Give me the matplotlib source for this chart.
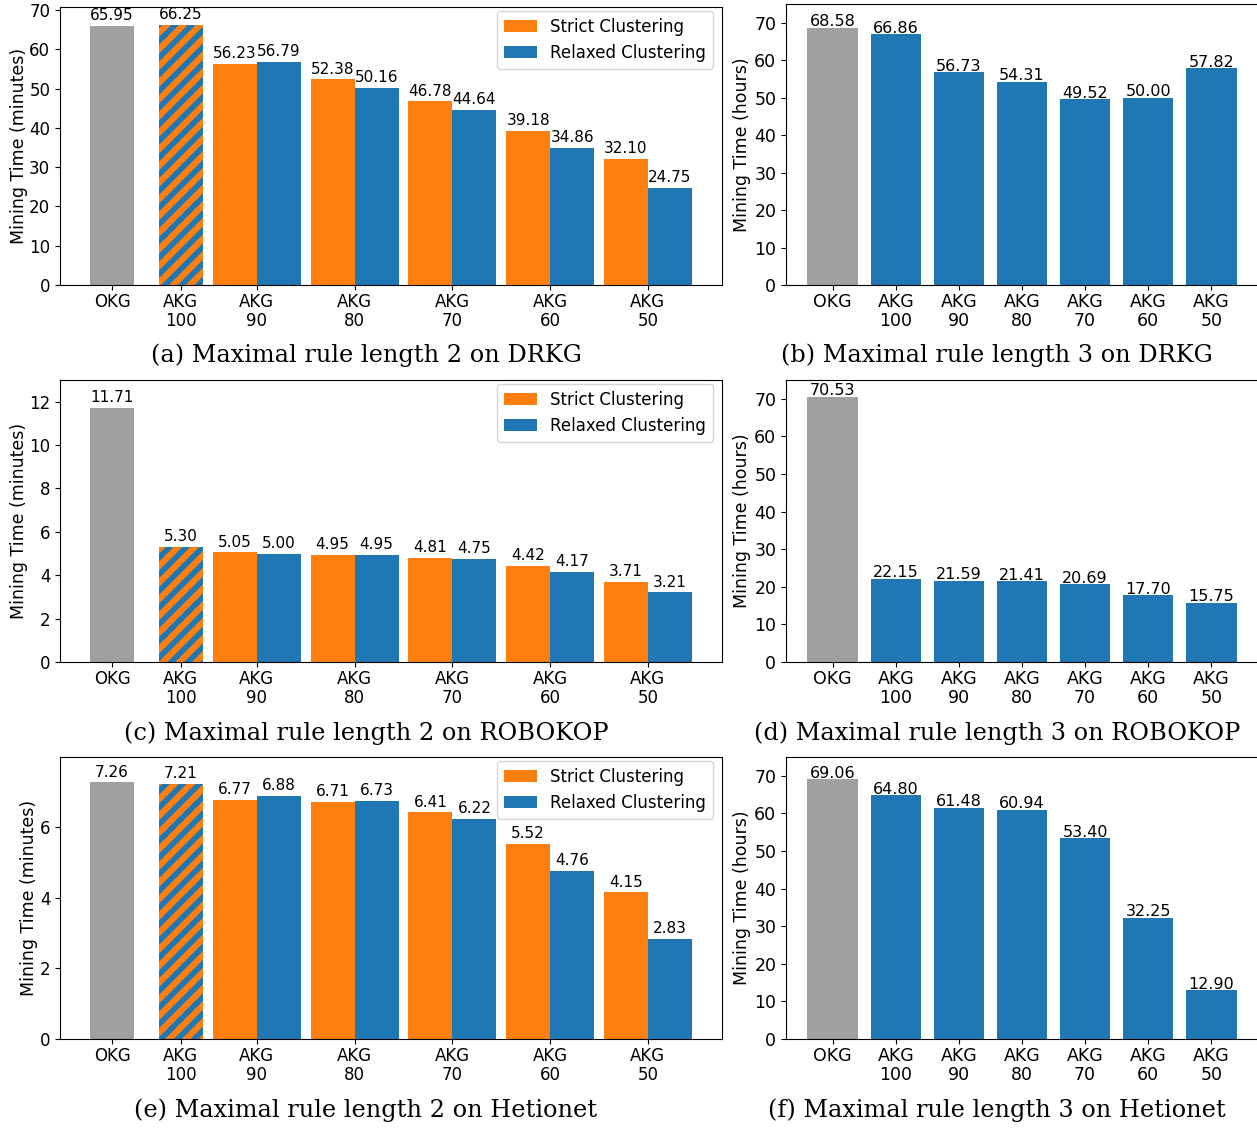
import numpy as np
import matplotlib
matplotlib.use("Agg")
import matplotlib.pyplot as plt
from matplotlib.ticker import MultipleLocator

plt.rcParams['hatch.linewidth'] = 4.0
plt.rcParams['xtick.major.pad'] = 2.0

# data
cats2 = ['OKG', 'AKG\n100', 'AKG\n90', 'AKG\n80', 'AKG\n70', 'AKG\n60', 'AKG\n50']
cats3 = ['OKG', 'AKG\n100', 'AKG\n90', 'AKG\n80', 'AKG\n70', 'AKG\n60', 'AKG\n50']

drkg2_okg = 65.95
drkg2_akg100 = 66.25
drkg2_strict = [56.23, 52.38, 46.78, 39.18, 32.10]
drkg2_relaxed = [56.79, 50.16, 44.64, 34.86, 24.75]

robo2_okg = 11.71
robo2_akg100 = 5.30
robo2_strict = [5.05, 4.95, 4.81, 4.42, 3.71]
robo2_relaxed = [5.00, 4.95, 4.75, 4.17, 3.21]

het2_okg = 7.26
het2_akg100 = 7.21
het2_strict = [6.77, 6.71, 6.41, 5.52, 4.15]
het2_relaxed = [6.88, 6.73, 6.22, 4.76, 2.83]

drkg3 = [68.58, 66.86, 56.73, 54.31, 49.52, 50.00, 57.82]
robo3 = [70.53, 22.15, 21.59, 21.41, 20.69, 17.70, 15.75]
het3 = [69.06, 64.80, 61.48, 60.94, 53.40, 32.25, 12.90]

captions = ['(a) Maximal rule length 2 on DRKG', '(b) Maximal rule length 3 on DRKG',
            '(c) Maximal rule length 2 on ROBOKOP', '(d) Maximal rule length 3 on ROBOKOP',
            '(e) Maximal rule length 2 on Hetionet', '(f) Maximal rule length 3 on Hetionet']

ORANGE = '#ff7f0e'
BLUE = '#1f77b4'
GREY = '#a0a0a0'

W, H = 1257, 1128
fig = plt.figure(figsize=(W / 100, H / 100), dpi=100)


def px_axes(x0, y0, x1, y1):
    return fig.add_axes([x0 / W, 1 - y1 / H, (x1 - x0) / W, (y1 - y0) / H])


def left_panel(ax, okg, akg100, strict, relaxed, top, step):
    w = 0.45
    pos = [0, 0.70] + [1.48 + i for i in range(5)]
    grp = np.array(pos[2:])
    b = ax.bar(pos[0], okg, w, color=GREY)
    ax.bar_label(b, fmt='%.2f', padding=2, fontsize=11)
    b = ax.bar(pos[1], akg100, w, color=ORANGE, edgecolor=BLUE, hatch='//', linewidth=0)
    ax.bar_label(b, fmt='%.2f', padding=2, fontsize=11)
    bs = ax.bar(grp - w / 2, strict, w, color=ORANGE, label='Strict Clustering')
    br = ax.bar(grp + w / 2, relaxed, w, color=BLUE, label='Relaxed Clustering')
    ax.bar_label(bs, fmt='%.2f', padding=2, fontsize=11)
    ax.bar_label(br, fmt='%.2f', padding=2, fontsize=11)
    ax.set_xticks(pos)
    ax.set_xticklabels(cats2, fontsize=12, linespacing=1.1)
    ax.tick_params(axis='y', labelsize=12)
    ax.yaxis.set_major_locator(MultipleLocator(step))
    ax.set_ylim(0, top)
    ax.set_ylabel('Mining Time (minutes)', fontsize=12.5, labelpad=1)
    ax.legend(loc='upper right', fontsize=12, handlelength=2.0, borderaxespad=0,
              bbox_to_anchor=(1 - 9 / 662, 1 - 4 / 278))


def right_panel(ax, vals):
    x = np.arange(len(vals))
    colors = [GREY] + [BLUE] * (len(vals) - 1)
    b = ax.bar(x, vals, 0.8, color=colors)
    ax.bar_label(b, fmt='%.2f', padding=-1, fontsize=11.5)
    ax.set_xticks(x)
    ax.set_xticklabels(cats3, fontsize=12.5, linespacing=1.1)
    ax.tick_params(axis='y', labelsize=12.5)
    ax.set_ylim(0, 75)
    ax.set_ylabel('Mining Time (hours)', fontsize=12.5, labelpad=2)


rows = [(7, 285), (380, 662), (757, 1039)]
left_data = [(drkg2_okg, drkg2_akg100, drkg2_strict, drkg2_relaxed, 70.8, 10),
             (robo2_okg, robo2_akg100, robo2_strict, robo2_relaxed, 13.0, 2),
             (het2_okg, het2_akg100, het2_strict, het2_relaxed, 7.98, 2)]
right_data = [drkg3, robo3, het3]
cap_y = [355, 733, 1110]

for i, (y0, y1) in enumerate(rows):
    ax = px_axes(60, y0, 722, y1)
    left_panel(ax, *left_data[i])
    ax2 = px_axes(786, y0 - 3 if i == 0 else y0, 1258, y1)
    right_panel(ax2, right_data[i])
    fig.text(366 / W, 1 - cap_y[i] / H, captions[2 * i], ha='center', va='center',
             family='DejaVu Serif', fontsize=17.3)
    fig.text(997 / W, 1 - cap_y[i] / H, captions[2 * i + 1], ha='center', va='center',
             family='DejaVu Serif', fontsize=17.3)

fig.savefig('out.png', dpi=100)
